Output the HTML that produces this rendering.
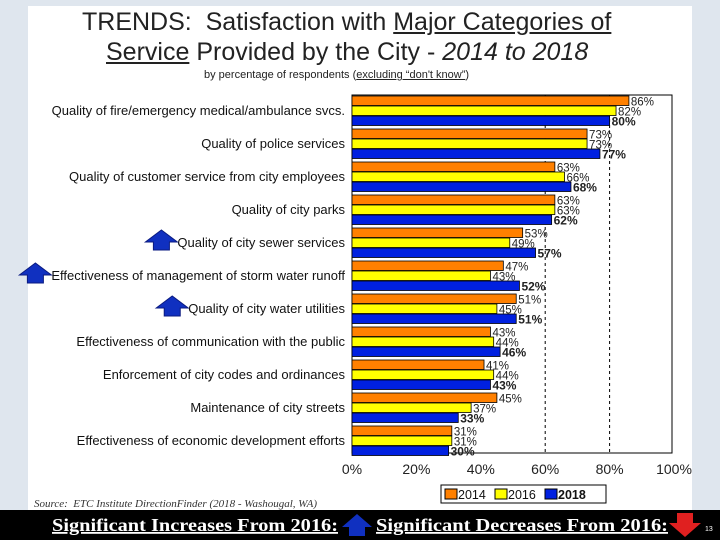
<!DOCTYPE html>
<html><head><meta charset="utf-8"><style>
body{margin:0;width:720px;height:540px;overflow:hidden;background:#dfe6ee;font-family:"Liberation Sans",sans-serif}
#slide{position:absolute;left:0;top:0;width:720px;height:540px}
.t{position:absolute;white-space:nowrap}
</style></head><body>
<div id="slide">
<div style="position:absolute;left:28px;top:6px;width:664px;height:504px;background:#fff"></div>
<div class="t" style="left:82px;top:8px;font-size:25px;color:#222">TRENDS:&nbsp; Satisfaction with <u>Major Categories of</u></div>
<div class="t" style="left:106px;top:38px;font-size:25px;color:#222"><u>Service</u> Provided by the City - <i>2014 to 2018</i></div>
<div class="t" style="left:204px;top:69px;font-size:11px;color:#222">by percentage of respondents (<u>excluding “don't know”</u>)</div>
<div class="t" style="left:34px;top:498px;font-size:11px;font-style:italic;font-family:'Liberation Serif',serif;color:#333">Source:&nbsp; ETC Institute DirectionFinder (2018 - Washougal, WA)</div>
<div style="position:absolute;left:0;top:510px;width:720px;height:30px;background:#000"></div>
<svg id="chart" width="720" height="540" style="position:absolute;left:0;top:0" font-family="Liberation Sans, sans-serif"></svg>
<div class="t" style="left:705px;top:526px;font-size:7px;color:#fff">13</div>
</div>
<script>
const categories=["Quality of fire/emergency medical/ambulance svcs.","Quality of police services","Quality of customer service from city employees","Quality of city parks","Quality of city sewer services","Effectiveness of management of storm water runoff","Quality of city water utilities","Effectiveness of communication with the public","Enforcement of city codes and ordinances","Maintenance of city streets","Effectiveness of economic development efforts"];
const v2014=[86,73,63,63,53,47,51,43,41,45,31];
const v2016=[82,73,66,63,49,43,45,44,44,37,31];
const v2018=[80,77,68,62,57,52,51,46,43,33,30];
const ticks=[0,20,40,60,80,100];
const upArrowRows=[4,5,6];
const NS="http://www.w3.org/2000/svg";
const svg=document.getElementById('chart');
const X0=352,X1=674,TOP=95,BOT=453;
const x=v=>X0+(X1-X0)*v/100;
const rowY=i=>96+33*i;
function mk(tag,attrs){const e=document.createElementNS(NS,tag);for(const k in attrs)e.setAttribute(k,attrs[k]);svg.appendChild(e);return e;}
function ctxW(s){const c=document.createElement('canvas').getContext('2d');c.font='13px "Liberation Sans"';return c.measureText(s).width;}
let f=mk('rect',{x:X0,y:TOP,width:X1-X0-2,height:BOT-TOP,fill:'none',stroke:'#000','stroke-width':1});

[60,80].forEach(t=>{const l=mk('line',{x1:x(t),x2:x(t),y1:TOP,y2:BOT,stroke:'#000','stroke-dasharray':'3,3'});
});
ticks.forEach(t=>{const e=mk('text',{x:x(t),y:474,'text-anchor':'middle','font-size':14,fill:'#222'});e.textContent=t+'%';
});
const series=[[v2014,'#ff8000',false],[v2016,'#ffff00',false],[v2018,'#0020e0',true]];
categories.forEach((c,i)=>{
 const lab=mk('text',{x:345,y:rowY(i)+19,'text-anchor':'end','font-size':13,fill:'#111'});lab.textContent=c;
 
 series.forEach(([vals,col,bold],s)=>{
  const y=rowY(i)+s*10;
  const r=mk('rect',{x:X0,y:y,width:x(vals[i])-X0,height:9.5,fill:col,stroke:'#000','stroke-width':0.8});
  
  const t=mk('text',{x:x(vals[i])+2,y:y+9.5,'font-size':bold?12:11.5,'font-weight':bold?'bold':'normal',fill:'#222'});
  t.textContent=vals[i]+'%';
 });
});
upArrowRows.forEach(i=>{
 const w=ctxW(categories[i]);const cx=345-w-16,cy=rowY(i)+14;
 const a=mk('polygon',{points:`${cx-16},${cy} ${cx},${cy-12} ${cx+16},${cy} ${cx+8},${cy} ${cx+8},${cy+8} ${cx-8},${cy+8} ${cx-8},${cy}`,fill:'#1030c0',stroke:'#0a1a80'});
 
});
let lb=mk('rect',{x:441,y:485,width:165,height:18,fill:'#fff',stroke:'#000'});

[['2014','#ff8000',445,false],['2016','#ffff00',495,false],['2018','#0020e0',545,true]].forEach(([n,c,lx,b])=>{
 const r=mk('rect',{x:lx,y:489,width:12,height:10,fill:c,stroke:'#000'});
 
 const t=mk('text',{x:lx+13,y:499,'font-size':12.5,'font-weight':b?'bold':'normal',fill:'#111'});t.textContent=n;
 
});
// footer text
let ft1=mk('text',{x:52,y:531,'font-size':18,'font-weight':'bold','font-family':'Liberation Serif, serif',fill:'#fff','text-decoration':'underline',textLength:286,lengthAdjust:'spacingAndGlyphs'});
ft1.textContent='Significant Increases From 2016:';

let ft2=mk('text',{x:376,y:531,'font-size':18,'font-weight':'bold','font-family':'Liberation Serif, serif',fill:'#fff','text-decoration':'underline',textLength:292,lengthAdjust:'spacingAndGlyphs'});
ft2.textContent='Significant Decreases From 2016:';

let ua=mk('polygon',{points:'342,527 357,514 372,527 365,527 365,536 349,536 349,527',fill:'#1030c0'});

let da=mk('polygon',{points:'669,523 685,537 701,523 693,523 693,513 677,513 677,523',fill:'#e02020'});

</script>
</body></html>
